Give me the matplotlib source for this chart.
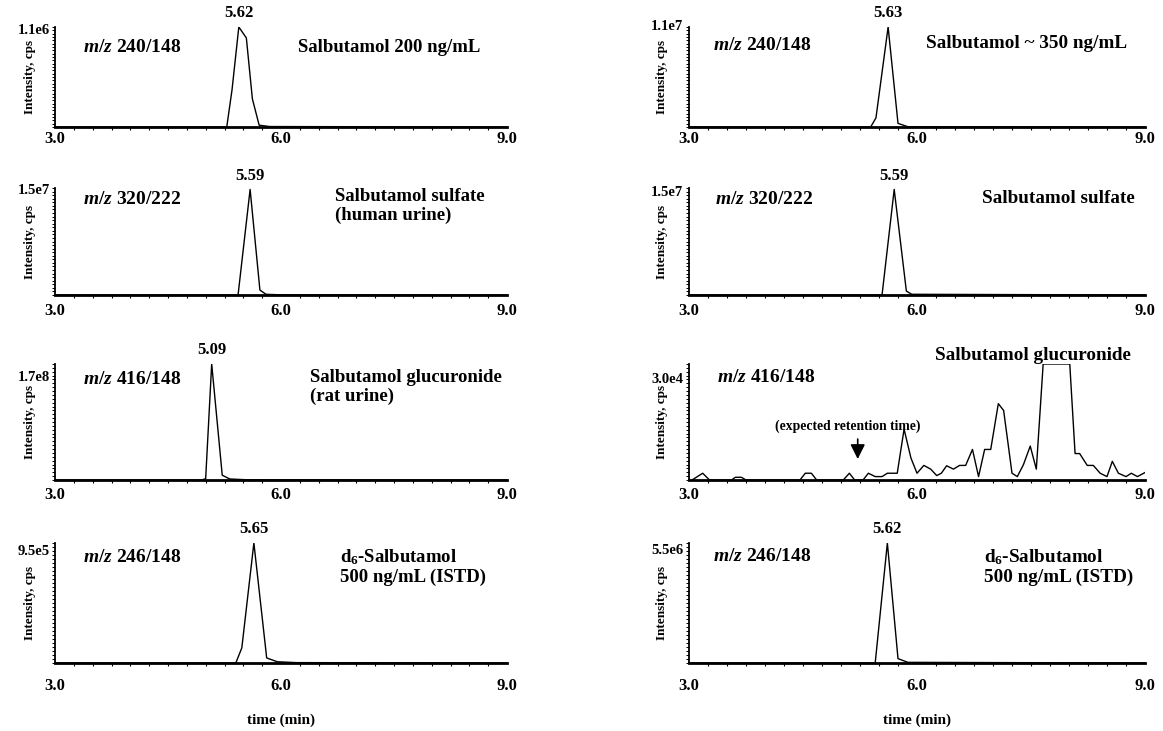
import matplotlib
matplotlib.use('Agg')
import matplotlib.pyplot as plt
from matplotlib.ticker import MultipleLocator

plt.rcParams['font.family'] = ['Liberation Serif', 'DejaVu Serif']
plt.rcParams['font.weight'] = 'bold'
plt.rcParams['axes.labelweight'] = 'bold'
plt.rcParams['mathtext.fontset'] = 'custom'
plt.rcParams['mathtext.rm'] = 'Liberation Serif:bold'
plt.rcParams['mathtext.it'] = 'Liberation Serif:italic:bold'
plt.rcParams['mathtext.bf'] = 'Liberation Serif:bold'

# retention time (min) and intensity (cps)
t_sal_std = [3.0, 5.28, 5.35, 5.44, 5.54, 5.62, 5.71, 5.85, 9.0]
y_sal_std = [0, 0, 4.1e5, 1.1e6, 9.8e5, 3.1e5, 2.0e4, 5.0e3, 0]

t_sal_hum = [3.0, 5.39, 5.46, 5.62, 5.75, 5.88, 9.0]
y_sal_hum = [0, 0, 1.0e6, 1.1e7, 4.0e5, 3.0e4, 0]

t_sulf_std = [3.0, 5.43, 5.59, 5.72, 5.80, 6.0, 9.0]
y_sulf_std = [0, 0, 1.48e7, 7.0e5, 1.0e5, 2.0e4, 0]

t_sulf_hum = [3.0, 5.54, 5.70, 5.86, 5.93, 9.0]
y_sulf_hum = [0, 0, 1.48e7, 5.5e5, 1.0e5, 0]

t_gluc_rat = [3.0, 4.95, 5.00, 5.08, 5.22, 5.32, 5.55, 9.0]
y_gluc_rat = [0, 0, 2.0e6, 1.7e8, 7.0e6, 1.5e6, 3.0e5, 0]

t_gluc_hum = [3.04, 3.18, 3.27, 3.56, 3.61, 3.69, 3.75, 4.46, 4.53, 4.61, 4.68,
              5.03, 5.11, 5.18, 5.29, 5.36, 5.45, 5.54, 5.61, 5.74, 5.83, 5.92,
              6.00, 6.09, 6.18, 6.26, 6.32, 6.39, 6.48, 6.56, 6.64, 6.73, 6.81,
              6.89, 6.97, 7.07, 7.14, 7.25, 7.32, 7.40, 7.49, 7.57, 7.66, 8.01,
              8.08, 8.14, 8.24, 8.32, 8.41, 8.50, 8.57, 8.65, 8.75, 8.82, 8.90, 9.00]
y_gluc_hum = [0, 1750, 0, 0, 700, 700, 0, 0, 1750, 1750, 0,
              0, 1750, 0, 0, 1750, 880, 880, 1750, 1750, 13150, 5700,
              1750, 3770, 2810, 1140, 1750, 3680, 2810, 3770, 3770, 7900, 880,
              7900, 7900, 19740, 17980, 1750, 880, 3950, 8770, 2810, 30000, 30000,
              6840, 6840, 3770, 3770, 1750, 880, 4830, 1750, 880, 1750, 880, 1930]

t_d6_std = [3.0, 5.40, 5.48, 5.64, 5.81, 5.95, 6.20, 9.0]
y_d6_std = [0, 0, 1.2e5, 9.5e5, 4.0e4, 1.0e4, 3.0e3, 0]

t_d6_hum = [3.0, 5.45, 5.61, 5.75, 5.88, 9.0]
y_d6_hum = [0, 0, 5.5e6, 2.0e5, 3.0e4, 0]

ymax_vals = [[1.1e6, 1.1e7], [1.5e7, 1.5e7], [1.7e8, 3.0e4], [9.5e5, 5.5e6]]
ymax_text = [['1.1e6', '1.1e7'], ['1.5e7', '1.5e7'], ['1.7e8', '3.0e4'], ['9.5e5', '5.5e6']]
peak_text = [['5.62', '5.63'], ['5.59', '5.59'], ['5.09', None], ['5.65', '5.62']]
mz_text = ['$m/z$ 240/148', '$m/z$ 320/222', '$m/z$ 416/148', '$m/z$ 246/148']
names = [['Salbutamol 200 ng/mL', 'Salbutamol ~ 350 ng/mL'],
         ['Salbutamol sulfate\n(human urine)', 'Salbutamol sulfate'],
         ['Salbutamol glucuronide\n(rat urine)', 'Salbutamol glucuronide'],
         ['d$_6$-Salbutamol\n500 ng/mL (ISTD)', 'd$_6$-Salbutamol\n500 ng/mL (ISTD)']]
xtick_vals = [3.0, 6.0, 9.0]
xtick_text = ['3.0', '6.0', '9.0']

traces = [[(t_sal_std, y_sal_std), (t_sal_hum, y_sal_hum)],
          [(t_sulf_std, y_sulf_std), (t_sulf_hum, y_sulf_hum)],
          [(t_gluc_rat, y_gluc_rat), (t_gluc_hum, y_gluc_hum)],
          [(t_d6_std, y_d6_std), (t_d6_hum, y_d6_hum)]]

# layout in pixels
W, H = 1163, 731
cols = [(55, 452), (689, 456)]
rows = [(27, 127), (188, 295), (364, 480), (543, 663)]
tick_pad = [3, 5.5, 5, 11]
ymax_y = [[0.97, 1.0], [0.98, 0.96], [0.88, 0.87], [0.93, 0.94]]
mz_pos = [[(0.062, 0.80), (0.053, 0.82)], [(0.062, 0.89), (0.057, 0.89)],
          [(0.062, 0.87), (0.061, 0.88)], [(0.062, 0.88), (0.053, 0.89)]]
name_pos = [[(0.538, 0.80), (0.52, 0.84)], [(0.619, 0.835), (0.643, 0.90)],
            [(0.564, 0.80), (0.539, 1.077)], [(0.631, 0.80), (0.647, 0.80)]]

fig = plt.figure(figsize=(11.63, 7.31), dpi=100)

for r in range(4):
    top, bot = rows[r]
    for c in range(2):
        x0, w = cols[c]
        ax = fig.add_axes([x0 / W, 1 - bot / H, w / W, (bot - top) / H])
        t, y = traces[r][c]
        ax.plot(t, y, color='black', lw=1.0, clip_on=True)
        ymax = ymax_vals[r][c]
        ax.set_xlim(3.0, 9.0)
        ax.set_ylim(0, ymax)
        for s in ['top', 'right']:
            ax.spines[s].set_visible(False)
        ax.spines['left'].set_linewidth(1.3)
        ax.spines['bottom'].set_linewidth(2.0)
        ax.set_xticks(xtick_vals)
        ax.set_xticklabels(xtick_text)
        ax.tick_params(axis='x', which='major', length=0, pad=tick_pad[r], labelsize=12)
        ax.xaxis.set_minor_locator(MultipleLocator(0.25))
        ax.tick_params(axis='x', which='minor', length=2.5, width=0.8)
        ax.set_yticks([])
        ax.yaxis.set_minor_locator(MultipleLocator(ymax / 30))
        ax.tick_params(axis='y', which='minor', length=2, width=0.7)
        ax.set_ylabel('Intensity, cps', fontsize=9.5)
        ax.yaxis.set_label_coords(-0.042 if c == 0 else -0.046, 0.5)
        ax.text(-0.012, ymax_y[r][c], ymax_text[r][c], transform=ax.transAxes,
                ha='right', va='center', fontsize=10.5)
        if peak_text[r][c]:
            i = y.index(max(y))
            ax.annotate(peak_text[r][c], xy=(t[i], y[i]), xytext=(0, 4),
                        textcoords='offset points', ha='center', va='bottom',
                        fontsize=12, annotation_clip=False)
        mx, my = mz_pos[r][c]
        ax.text(mx, my, mz_text[r], transform=ax.transAxes, ha='left', va='center',
                fontsize=14)
        nx, ny = name_pos[r][c]
        ax.text(nx, ny, names[r][c], transform=ax.transAxes, ha='left', va='center',
                fontsize=13.8 if c == 1 else 13.5, linespacing=1.15)
        if r == 2 and c == 1:
            ax.annotate('', xy=(5.22, 4700), xytext=(5.22, 11300),
                        arrowprops=dict(arrowstyle='-|>', color='black', lw=1.2,
                                        mutation_scale=22))
            ax.text(5.09, 13950, '(expected retention time)', ha='center', va='center',
                    fontsize=9.8)
        if r == 3:
            ax.set_xlabel('time (min)', fontsize=11, labelpad=14)

fig.savefig('out.png', dpi=100)
